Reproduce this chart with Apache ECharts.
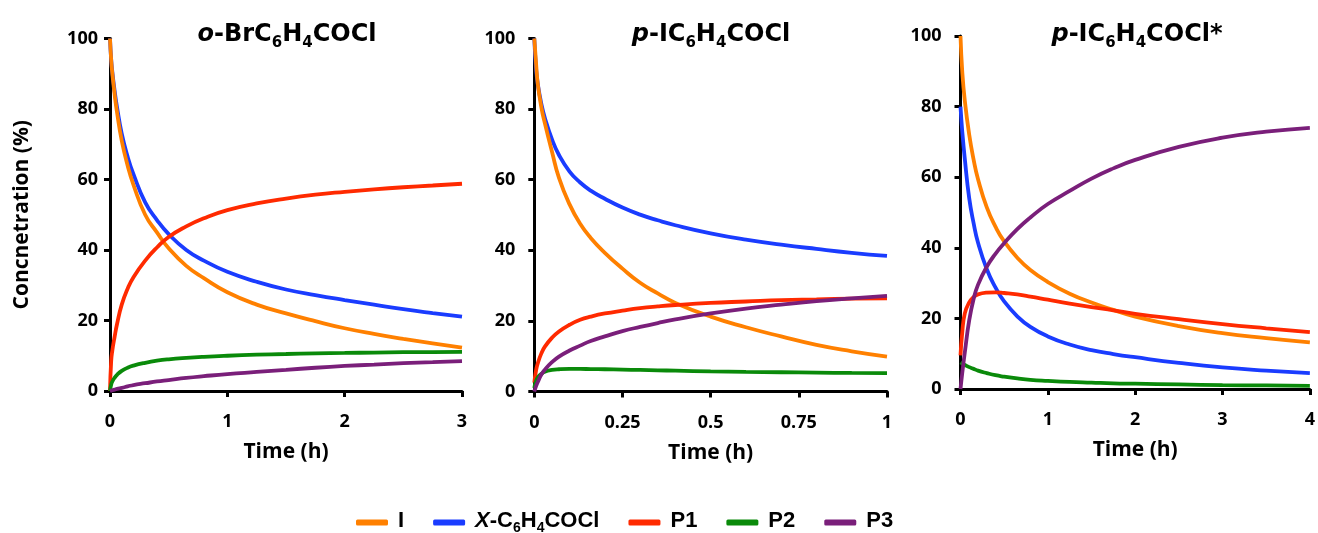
<!DOCTYPE html>
<html>
<head>
<meta charset="utf-8">
<script src="https://cdn.jsdelivr.net/npm/echarts@6/dist/echarts.min.js"></script>
<style>
html,body{margin:0;padding:0;background:#fff;}
#chart{width:1318px;height:533px;}
</style>
</head>
<body>
<div id="chart"></div>
<script>
// ---------- DATA ----------
const seriesNames = ['I', 'X-C6H4COCl', 'P1', 'P2', 'P3'];
const panelTitles = ['o-BrC6H4COCl', 'p-IC6H4COCl', 'p-IC6H4COCl*'];
const yTicks = [0, 20, 40, 60, 80, 100];
const xMax = [3, 1, 4];
const xStep = [1, 0.25, 1];

// Panel 1: o-BrC6H4COCl
const t1 = [0, 0.01, 0.02, 0.04, 0.06, 0.1, 0.15, 0.2, 0.3, 0.4, 0.5, 0.65, 0.8, 1, 1.25, 1.5, 1.75, 2, 2.25, 2.5, 2.75, 3];
const I_1  = [100, 94, 90, 84, 79, 71, 64, 58.5, 50, 45, 40.5, 35.5, 32, 28, 24.5, 22, 19.8, 17.8, 16.2, 14.8, 13.5, 12.3];
const X_1  = [100, 94, 90.5, 85, 80.5, 73, 66.5, 61.5, 53.5, 48.5, 44.5, 40, 37, 33.8, 31, 28.8, 27.2, 25.8, 24.5, 23.2, 22.1, 21.1];
const P1_1 = [0, 8.5, 11.5, 15.5, 19, 24.5, 29, 32.3, 37, 40.7, 43.7, 46.7, 49, 51.3, 53.2, 54.6, 55.7, 56.5, 57.2, 57.8, 58.3, 58.8];
const P2_1 = [0, 1.8, 2.7, 3.8, 4.6, 5.7, 6.6, 7.2, 8, 8.6, 9, 9.4, 9.7, 10, 10.3, 10.5, 10.7, 10.8, 10.9, 11, 11.05, 11.1];
const P3_1 = [0, 0.1, 0.2, 0.4, 0.6, 0.9, 1.3, 1.7, 2.2, 2.7, 3.1, 3.7, 4.2, 4.8, 5.4, 6, 6.6, 7.1, 7.5, 7.9, 8.2, 8.5];

// Panel 2: p-IC6H4COCl
const t2 = [0, 0.005, 0.01, 0.02, 0.03, 0.05, 0.07, 0.1, 0.13, 0.16, 0.2, 0.25, 0.3, 0.35, 0.4, 0.5, 0.6, 0.7, 0.8, 0.9, 1];
const I_2  = [100, 93, 87, 80.5, 76, 68, 60.5, 53, 47.5, 43.5, 39.3, 34.8, 30.8, 27.8, 25.1, 21.2, 18.2, 15.6, 13.2, 11.4, 9.9];
const X_2  = [100, 91.5, 87, 81.5, 77.5, 71.5, 67, 62.3, 59.2, 56.9, 54.6, 52.1, 50.1, 48.5, 47.1, 44.8, 43, 41.6, 40.4, 39.3, 38.4];
const P1_2 = [2.5, 6, 8, 10.8, 12.7, 15.2, 17, 18.9, 20.3, 21.2, 22.1, 22.9, 23.6, 24.1, 24.5, 25.1, 25.5, 25.9, 26.1, 26.3, 26.4];
const P2_2 = [1, 3, 4, 5, 5.6, 6.1, 6.3, 6.4, 6.4, 6.35, 6.3, 6.2, 6.1, 6, 5.9, 5.7, 5.55, 5.45, 5.35, 5.25, 5.2];
const P3_2 = [0, 1.5, 2.7, 4.8, 6.2, 8.3, 9.9, 11.6, 13, 14.3, 15.6, 17.1, 18.3, 19.4, 20.4, 22.1, 23.5, 24.6, 25.6, 26.4, 27.1];

// Panel 3: p-IC6H4COCl*
const t3 = [0, 0.02, 0.05, 0.1, 0.15, 0.2, 0.3, 0.4, 0.5, 0.65, 0.8, 1, 1.25, 1.5, 1.75, 2, 2.5, 3, 3.5, 4];
const I_3  = [100, 90, 81.5, 72, 65, 59.5, 51.5, 46, 41.8, 37.2, 33.7, 30.3, 27, 24.5, 22.4, 20.5, 17.8, 15.8, 14.4, 13.2];
const X_3  = [80, 73, 65, 54, 47, 41.5, 34, 28.8, 24.8, 20.6, 17.6, 14.9, 12.6, 11, 9.9, 9, 7.4, 6.1, 5.2, 4.5];
const P1_3 = [9.5, 16, 21.5, 24.5, 26, 26.8, 27.3, 27.4, 27.2, 26.8, 26.2, 25.3, 24.2, 23.2, 22.3, 21.3, 19.8, 18.4, 17.2, 16.1];
const P2_3 = [7.5, 7.2, 6.8, 6.2, 5.7, 5.2, 4.5, 3.9, 3.5, 3, 2.6, 2.3, 2, 1.8, 1.6, 1.5, 1.3, 1.1, 1, 0.9];
const P3_3 = [0, 4.5, 10.5, 19.5, 25.5, 29.5, 34.6, 38.3, 41.3, 45.3, 48.6, 52.4, 56.1, 59.6, 62.5, 64.9, 68.6, 71.2, 72.9, 74];

// ---------- CHART ----------
const colors = { 'I': '#FF8000', 'X-C6H4COCl': '#1A3CFF', 'P1': '#FF2A00', 'P2': '#0A8A0A', 'P3': '#7A1F7A' };
const panels = [
  { t: t1, d: { 'I': I_1, 'X-C6H4COCl': X_1, 'P1': P1_1, 'P2': P2_1, 'P3': P3_1 } },
  { t: t2, d: { 'I': I_2, 'X-C6H4COCl': X_2, 'P1': P1_2, 'P2': P2_2, 'P3': P3_2 } },
  { t: t3, d: { 'I': I_3, 'X-C6H4COCl': X_3, 'P1': P1_3, 'P2': P2_3, 'P3': P3_3 } }
];
const grids = [
  { left: 110, top: 38.5, width: 352, height: 352.5 },
  { left: 534.3, top: 38.5, width: 352.7, height: 353 },
  { left: 960.5, top: 36, width: 351.5, height: 353 }
];
const yLabelMargin = [12, 19, 19];
const titleCenters = [282, 706, 1132];

const OSB = '"Open Sans", Lato, "Liberation Sans", sans-serif';
const TTF = '"DejaVu Sans", "Liberation Sans", Arial, sans-serif';
const ARB = '"Liberation Sans", Arial, sans-serif';

const titleRich = {
  n: { fontFamily: TTF, fontWeight: 'bold', fontSize: 24, color: '#000', padding: [0, 0, 4, 0] },
  i: { fontFamily: TTF, fontWeight: 'bold', fontStyle: 'italic', fontSize: 24, color: '#000', padding: [0, 0, 4, 0] },
  s: { fontFamily: TTF, fontWeight: 'bold', fontSize: 15, color: '#000', verticalAlign: 'bottom', lineHeight: 15 }
};
function chemRich(str) {
  // italic prefix letter before '-', digits inside a formula as subscripts
  if (!/C\d/.test(str)) return '{n|' + str + '}';
  let out = '';
  let m = str.match(/^([A-Za-z])-(.*)$/);
  let rest = str;
  if (m) { out += '{i|' + m[1] + '}'; rest = '-' + m[2]; }
  rest.split(/(\d)/).forEach(p => {
    if (!p) return;
    out += /^\d$/.test(p) ? '{s|' + p + '}' : '{n|' + p + '}';
  });
  return out;
}

const axisCommon = {
  axisLine: { show: true, onZero: false, lineStyle: { color: '#000', width: 3 } },
  axisTick: { show: true, inside: false, length: 6, lineStyle: { color: '#000', width: 3 } },
  splitLine: { show: false },
  axisLabel: { color: '#000', fontFamily: OSB, fontWeight: 'bold', fontSize: 18 }
};

const xAxes = [], yAxes = [], series = [], titles = [];
panels.forEach((p, k) => {
  xAxes.push(Object.assign({}, axisCommon, {
    type: 'value', gridIndex: k, min: 0, max: xMax[k], interval: xStep[k],
    name: 'Time (h)', nameLocation: 'middle', nameGap: 51,
    nameTextStyle: { color: '#000', fontFamily: OSB, fontWeight: 'bold', fontSize: 21 },
    axisLabel: Object.assign({}, axisCommon.axisLabel, { margin: 22 })
  }));
  yAxes.push(Object.assign({}, axisCommon, {
    type: 'value', gridIndex: k, min: 0, max: 100, interval: 20,
    name: k === 0 ? 'Concnetration (%)' : '', nameLocation: 'middle', nameGap: 77, nameRotate: 90,
    nameTextStyle: { color: '#000', fontFamily: OSB, fontWeight: 'bold', fontSize: 21 },
    axisLabel: Object.assign({}, axisCommon.axisLabel, { margin: yLabelMargin[k] })
  }));
  titles.push({
    text: chemRich(panelTitles[k]), left: titleCenters[k], top: 18, textAlign: 'center',
    textStyle: { rich: titleRich }
  });
  ['X-C6H4COCl', 'I', 'P1', 'P2', 'P3'].forEach(name => {
    series.push({
      type: 'line', name: name, xAxisIndex: k, yAxisIndex: k,
      data: p.t.map((tv, i) => [tv, p.d[name][i]]),
      smooth: 0.5, showSymbol: false, symbol: 'none',
      lineStyle: { color: colors[name], width: 3.8 },
      itemStyle: { color: colors[name] },
      silent: true, animation: false
    });
  });
});

const legendRich = {
  n: { fontFamily: ARB, fontWeight: 'bold', fontSize: 22, color: '#000', padding: [0, 0, 3, 0] },
  i: { fontFamily: ARB, fontWeight: 'bold', fontStyle: 'italic', fontSize: 22, color: '#000', padding: [0, 0, 3, 0] },
  s: { fontFamily: ARB, fontWeight: 'bold', fontSize: 14, color: '#000', verticalAlign: 'bottom', lineHeight: 14 }
};

const option = {
  backgroundColor: '#fff',
  animation: false,
  title: titles,
  grid: grids,
  xAxis: xAxes,
  yAxis: yAxes,
  legend: {
    data: seriesNames.map(n => ({ name: n, itemStyle: { color: colors[n] } })),
    left: 351, top: 505, itemGap: 29, itemWidth: 32, itemHeight: 6, icon: 'roundRect',
    selectedMode: false,
    formatter: name => chemRich(name),
    textStyle: { rich: legendRich, padding: [0, 0, 0, 5] }
  },
  series: series
};

const chart = echarts.init(document.getElementById('chart'), null, { renderer: 'canvas' });
chart.setOption(option);
</script>
</body>
</html>
